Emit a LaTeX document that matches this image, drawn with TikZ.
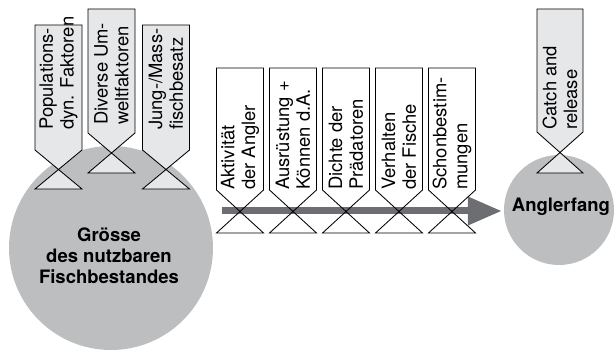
\documentclass[tikz,border=0pt]{standalone}
\usepackage{fontspec}
\setmainfont{TeX Gyre Heros}
\usetikzlibrary{arrows.meta}
\definecolor{circgray}{HTML}{BCBEC0}
\definecolor{flaggray}{HTML}{E6E7E8}
\definecolor{arrowgray}{HTML}{6D6E71}
% #1 cx, #2 half width, #3 top, #4 corner, #5 base, #6 fill
\newcommand\flagshape[6]{%
  \draw[flagline, fill=#6] (#1-#2,#3) -- (#1+#2,#3) -- (#1+#2,#4) -- (#1-#2,#5)
    -- (#1+#2,#5) -- (#1-#2,#4) -- cycle;}
\begin{document}
\begin{tikzpicture}[x=1pt,y=-1pt,
  flagline/.style={draw=black, line width=0.85pt, line join=miter},
  flagtext/.style={rotate=90, anchor=west, inner sep=0pt, align=left,
    font=\fontsize{18.4}{20.8}\selectfont},
  circtext/.style={align=center, inner sep=0pt,
    font=\fontsize{18.5}{21}\selectfont\bfseries},
  bigarrow/.style={line width=7pt, draw=arrowgray,
    -{Triangle[length=34pt,width=27pt]}}]
\useasboundingbox (0,0) rectangle (616,352);
% circles
\node[circle, fill=circgray, minimum size=204pt, inner sep=0pt] (big) at (111,248) {};
\node[circle, fill=circgray, minimum size=110pt, inner sep=0pt] (small) at (559,210) {};
\node[circtext] (bigtext) at (109,256) {Grösse\\des nutzbaren\\Fischbestandes};
\node[circtext] (smalltext) at (561,207) {Anglerfang};
% arrow
\coordinate (astart) at (222,211);
\draw[bigarrow, shorten >=2pt] (astart) -- (astart -| small.west);
% top flags
\flagshape{58.5}{23.5}{25}{150}{189}{flaggray}
\flagshape{111.5}{23.5}{9}{133}{173}{flaggray}
\flagshape{166}{23.5}{25}{150}{189}{flaggray}
\flagshape{560}{23}{9}{132}{173}{flaggray}
\node[flagtext] (f1) at (58.5,130) {Populations-\\dyn. Faktoren};
\node[flagtext] (f2) at (111.5,125) {Diverse Um-\\weltfaktoren};
\node[flagtext] (f3) at (166,130) {Jung-/Mass-\\fischbesatz};
\node[flagtext] (f4) at (560,130) {Catch and\\release};
% row flags
\foreach \i in {0,...,4}{
  \flagshape{240+53*\i}{23.5}{68}{190}{233}{none}
}
\node[flagtext] (r1) at (240,190) {Aktivität\\der Angler};
\node[flagtext] (r2) at (293,190) {Ausrüstung +\\Können d.A.};
\node[flagtext] (r3) at (346,190) {Dichte der\\Prädatoren};
\node[flagtext] (r4) at (399,190) {Verhalten\\der Fische};
\node[flagtext] (r5) at (452,190) {Schonbestim-\\mungen};
\end{tikzpicture}
\end{document}
